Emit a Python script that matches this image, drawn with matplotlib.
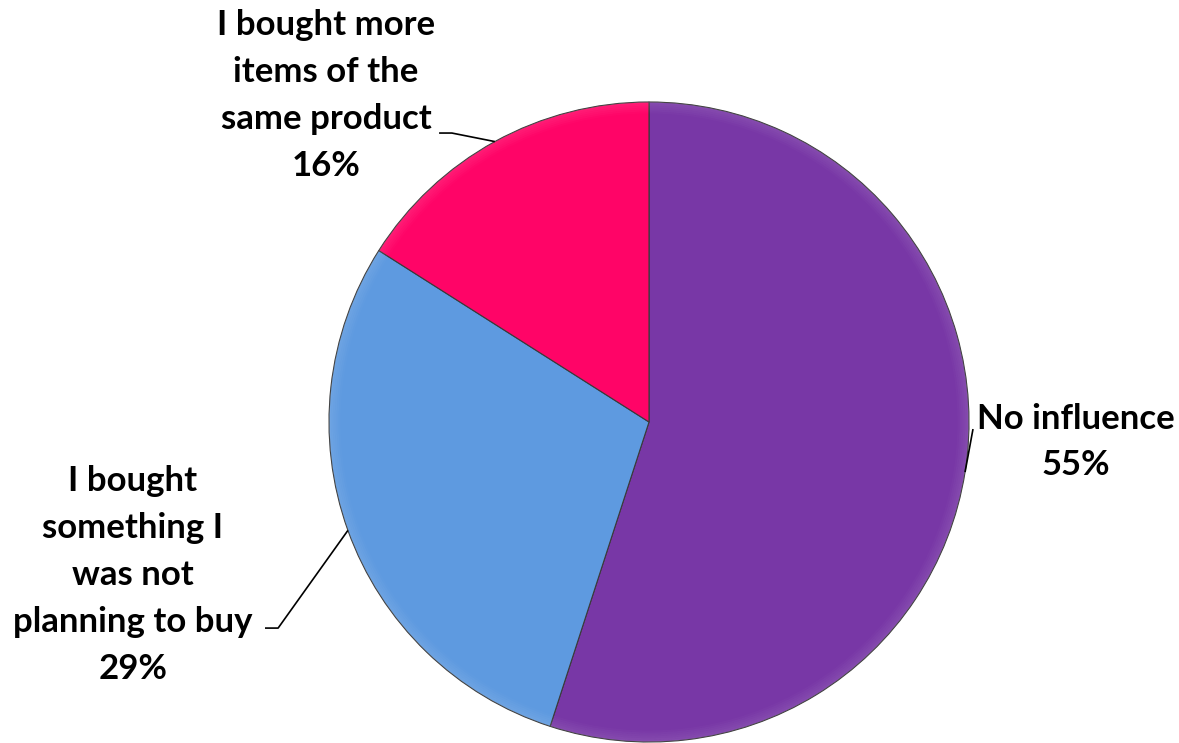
import numpy as np
import matplotlib
matplotlib.use("Agg")
import matplotlib.pyplot as plt

# survey answers, clockwise from 12 o'clock
label_text = ["No influence",
              "I bought\nsomething I\nwas not\nplanning to buy",
              "I bought more\nitems of the\nsame product"]
shares = [55, 29, 16]
colors = ["#7837A6", "#5E9AE0", "#FF0467"]

W, H = 1179, 743
cx, cy, R = 649, 422, 320   # pie centre / radius in pixels

plt.rcParams['font.family'] = ['Lato', 'DejaVu Sans']

fig = plt.figure(figsize=(W / 100, H / 100), dpi=100)
ax = fig.add_axes([0, 0, 1, 1])

wedges, _ = ax.pie(shares, colors=colors, startangle=90, counterclock=False,
                   radius=1, wedgeprops=dict(edgecolor='#3a3a3a', linewidth=0.8))

# pie() resets the limits, so set them afterwards
ax.set_xlim(-cx / R, (W - cx) / R)
ax.set_ylim(-(H - cy) / R, cy / R)
ax.set_aspect('equal')
ax.axis('off')

# soft bevel along the rim
for w in wedges:
    for k in range(6):
        ring = matplotlib.patches.Wedge((0, 0), 1 - 0.006 * k, w.theta1, w.theta2,
                                        width=0.006, facecolor='white',
                                        alpha=0.10 * (1 - k / 6), edgecolor='none')
        ax.add_patch(ring)

# label text placement (text centre) and leader elbow, in radius units
text_pos = [(1.334, -0.0625), (-1.6125, -0.478), (-1.009, 1.02)]
elbows = [[(1.0125, -0.022)],
          [(-1.20, -0.644), (-1.159, -0.644)],
          [(-0.656, 0.903), (-0.616, 0.903)]]

for w, txt, pct, (tx, ty), elb in zip(wedges, label_text, shares, text_pos, elbows):
    ax.text(tx, ty, f"{txt}\n{pct}%", ha='center', va='center', fontsize=25,
            fontweight='bold', linespacing=1.57, color='black')
    mid = np.deg2rad((w.theta1 + w.theta2) / 2)
    pts = elb + [(np.cos(mid), np.sin(mid))]
    xs, ys = zip(*pts)
    ax.plot(xs, ys, color='black', linewidth=1.2, solid_capstyle='butt')

fig.savefig("out.png", dpi=100)
